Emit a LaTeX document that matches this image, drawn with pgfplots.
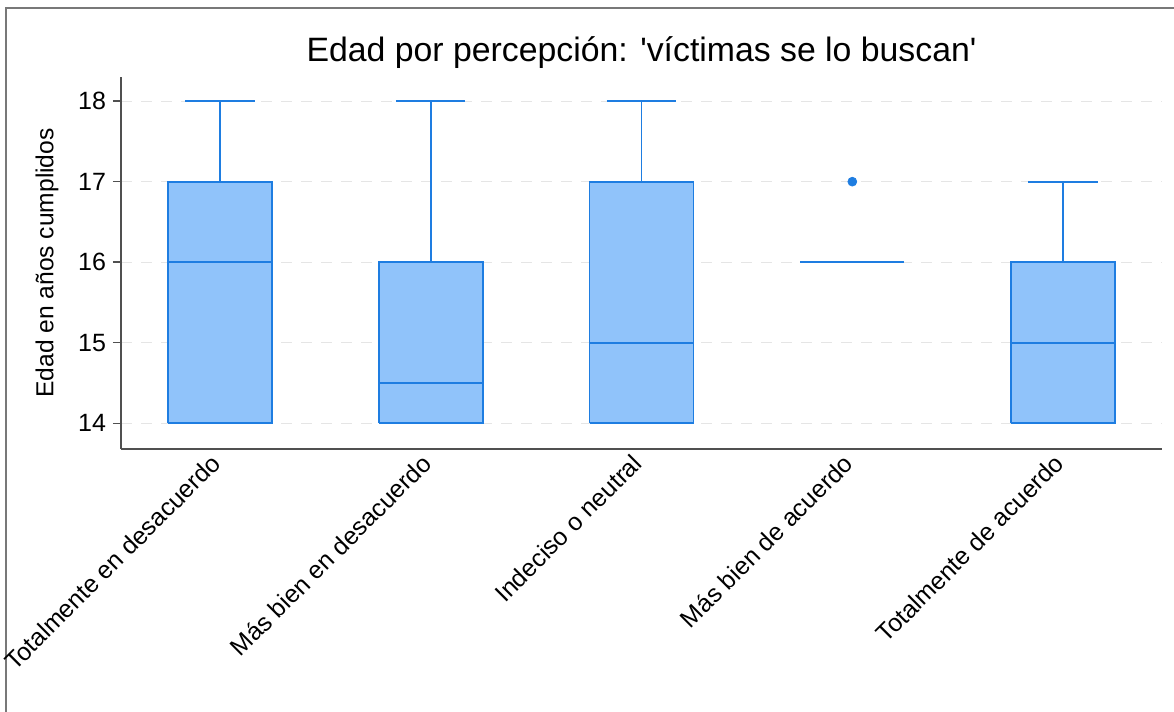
\documentclass[border=0pt]{standalone}
\usepackage{fontspec}
\setmainfont{Liberation Sans}[Ligatures=TeXOff]
\usepackage{pgfplots}
\pgfplotsset{compat=1.18}
\definecolor{edgeblue}{RGB}{30,125,225}
\definecolor{fillblue}{RGB}{144,195,250}
\definecolor{axgray}{RGB}{80,80,80}
\definecolor{framegray}{RGB}{120,120,120}
\pgfplotsset{
  boxst/.style={draw=edgeblue, fill=fillblue, line width=0.9pt, line join=miter, mark=none, solid},
  linest/.style={draw=edgeblue, line width=0.9pt, mark=none, solid},
}
\begin{document}
\begin{tikzpicture}
\path[use as bounding box] (0,0) rectangle (587pt,356pt);
\draw[framegray, line width=1pt] (3pt,0) -- (3pt,352pt) -- (587pt,352pt);
\begin{axis}[
  at={(60.5pt,131.5pt)}, anchor=south west,
  scale only axis, width=520.5pt, height=186pt,
  xmin=0.531, xmax=5.469, ymin=13.68, ymax=18.3,
  axis x line=bottom, axis y line=left,
  axis line style={axgray, line width=0.9pt, -},
  xtick={1,2,3,4,5},
  xticklabels={Totalmente en desacuerdo, Más bien en desacuerdo, Indeciso o neutral, Más bien de acuerdo, Totalmente de acuerdo},
  major x tick style={draw=none},
  ytick={14,15,16,17,18},
  major y tick style={axgray, line width=0.7pt},
  tick align=outside, major tick length=4pt,
  /pgf/number format/assume math mode=true,
  yticklabel style={font=\fontsize{12.5}{14}\selectfont, text=black},
  xticklabel style={font=\fontsize{12.4}{14}\selectfont, text=black, rotate=45, anchor=north east, inner sep=1pt, xshift=-1pt, yshift=6.5pt},
  ymajorgrids,
  grid style={gray!20, line width=0.6pt, dash pattern=on 5.5pt off 4.5pt},
  ylabel={Edad en años cumplidos},
  ylabel style={font=\fontsize{12.3}{14}\selectfont, at={(axis description cs:-0.0711,0.5)}, anchor=center, rotate=0},
  title={Edad por percepción: 'víctimas se lo buscan'},
  title style={font=\fontsize{16.9}{20}\selectfont, anchor=base, at={(axis description cs:0.5,1)}, yshift=1.5pt},
  clip=false,
]
% Box 1: Q1=14, median=16, Q3=17, whisker 18
\addplot[boxst] coordinates {(0.7535,14) (1.2465,14) (1.2465,17) (0.7535,17) (0.7535,14)};
\addplot[linest] coordinates {(0.7535,16) (1.2465,16)};
\addplot[linest] coordinates {(1,17) (1,18)};
\addplot[linest] coordinates {(0.835,18) (1.165,18)};
% Box 2: Q1=14, median=14.5, Q3=16, whisker 18
\addplot[boxst] coordinates {(1.7535,14) (2.2465,14) (2.2465,16) (1.7535,16) (1.7535,14)};
\addplot[linest] coordinates {(1.7535,14.5) (2.2465,14.5)};
\addplot[linest] coordinates {(2,16) (2,18)};
\addplot[linest] coordinates {(1.835,18) (2.165,18)};
% Box 3: Q1=14, median=15, Q3=17, whisker 18
\addplot[boxst] coordinates {(2.7535,14) (3.2465,14) (3.2465,17) (2.7535,17) (2.7535,14)};
\addplot[linest] coordinates {(2.7535,15) (3.2465,15)};
\addplot[linest] coordinates {(3,17) (3,18)};
\addplot[linest] coordinates {(2.835,18) (3.165,18)};
% Box 4: all 16, outlier 17
\addplot[linest] coordinates {(3.7535,16) (4.2465,16)};
\addplot[only marks, mark=*, mark size=2.2pt, color=edgeblue] coordinates {(4,17)};
% Box 5: Q1=14, median=15, Q3=16, whisker 17
\addplot[boxst] coordinates {(4.7535,14) (5.2465,14) (5.2465,16) (4.7535,16) (4.7535,14)};
\addplot[linest] coordinates {(4.7535,15) (5.2465,15)};
\addplot[linest] coordinates {(5,16) (5,17)};
\addplot[linest] coordinates {(4.835,17) (5.165,17)};
\end{axis}
\end{tikzpicture}
\end{document}
